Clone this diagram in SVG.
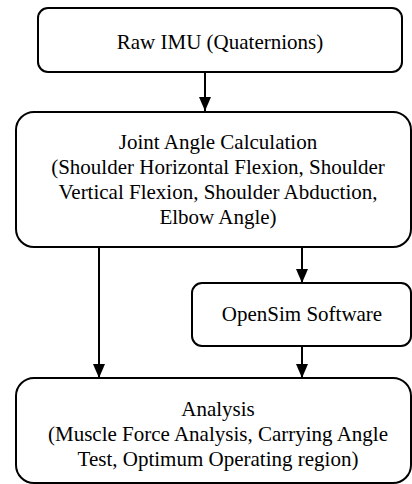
<svg xmlns="http://www.w3.org/2000/svg" width="412" height="484" viewBox="0 0 412 484">
<style>
.box{fill:#fff;stroke:#000;stroke-width:2}
.t{font-size:21px;fill:#000;text-anchor:middle}
.c{stroke:#000;stroke-width:2;fill:none;marker-end:url(#ah)}
</style>
<defs>
<marker id="ah" viewBox="0 0 14 12" refX="14" refY="6" markerWidth="14" markerHeight="12" markerUnits="userSpaceOnUse" orient="auto">
<path d="M0,0 L14,6 L0,12 z" fill="#000"/>
</marker>
</defs>
<g id="connectors">
<line class="c" x1="205" y1="72" x2="205" y2="111"/>
<line class="c" x1="99" y1="247" x2="99" y2="378"/>
<line class="c" x1="302" y1="247" x2="302" y2="283"/>
<line class="c" x1="302" y1="346" x2="302" y2="378"/>
</g>
<g font-family="Liberation Serif, Tinos, DejaVu Serif, serif">
<g id="raw-imu">
<rect class="box" x="38" y="8" width="364" height="64" rx="10"/>
<text class="t" x="220" y="49">Raw IMU (Quaternions)</text>
</g>
<g id="joint-angle">
<rect class="box" x="16" y="112" width="395" height="135" rx="18"/>
<text class="t" x="218" y="149">Joint Angle Calculation</text>
<text class="t" x="218" y="174">(Shoulder Horizontal Flexion, Shoulder</text>
<text class="t" x="218" y="199">Vertical Flexion, Shoulder Abduction,</text>
<text class="t" x="218" y="224">Elbow Angle)</text>
</g>
<g id="opensim">
<rect class="box" x="192" y="283" width="219" height="63" rx="10"/>
<text class="t" x="302" y="321">OpenSim Software</text>
</g>
<g id="analysis">
<rect class="box" x="16" y="378" width="395" height="105" rx="18"/>
<text class="t" x="218" y="416">Analysis</text>
<text class="t" x="218" y="441">(Muscle Force Analysis, Carrying Angle</text>
<text class="t" x="218" y="466">Test, Optimum Operating region)</text>
</g>
</g>
</svg>
